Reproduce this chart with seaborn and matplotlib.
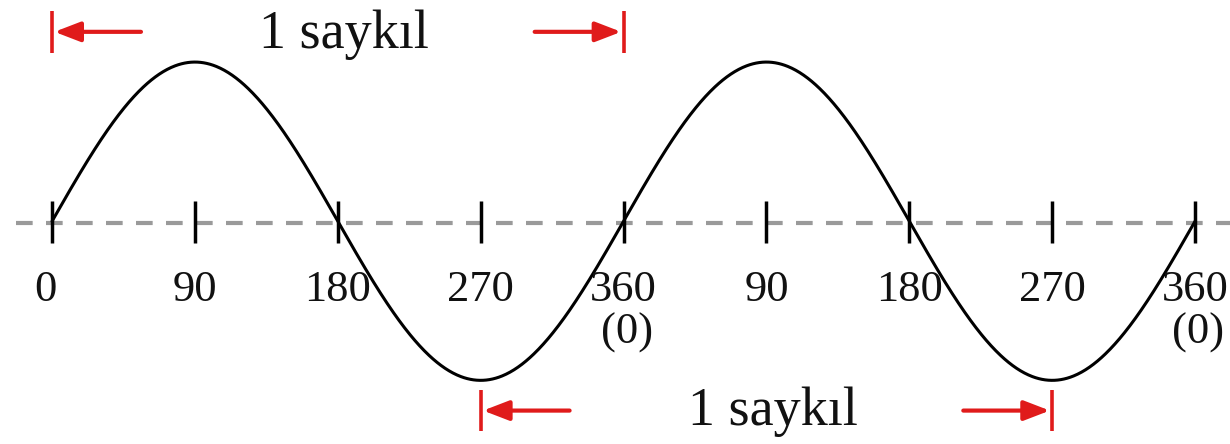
import numpy as np
import pandas as pd
import matplotlib
matplotlib.use("Agg")
import matplotlib.pyplot as plt
import seaborn as sns

# Data: angle marks along the axis (degrees, two full cycles)

tick_deg = [0, 90, 180, 270, 360, 450, 540, 630, 720]
tick_labels = ["0", "90", "180", "270", "360", "90", "180", "270", "360"]
sub_labels = {360: "(0)", 720: "(0)"}
cycle_text = "1 saykıl"
top_cycle = (0, 360)      # marked cycle above the wave
bottom_cycle = (270, 630)  # marked cycle below the wave

# Sine wave over two cycles
deg = np.linspace(0, 720, 1441)
wave = pd.DataFrame({"deg": deg, "amp": np.sin(np.radians(deg))})

sns.set_theme(style="white")
plt.rcParams["font.family"] = ["Liberation Serif", "DejaVu Serif"]

fig = plt.figure(figsize=(12.3, 4.44), dpi=100)
ax = fig.add_axes([0, 0, 1, 1])

# dashed zero line
ax.plot([-23, 760], [-0.01, -0.01], color="#9a9a9a", lw=3.0,
        dashes=(4, 3.2), zorder=1)

sns.lineplot(data=wave, x="deg", y="amp", color="black", lw=2.2, ax=ax,
             zorder=3)

# tick marks and labels
for d, lab in zip(tick_deg, tick_labels):
    ax.plot([d, d], [-0.14, 0.13], color="black", lw=2.5, zorder=2,
            solid_capstyle="butt")
    xoff = -4 if d == 0 else 0
    ax.text(d + xoff, -0.43, lab, ha="center", va="center", fontsize=32,
            color="#111111")
    if d in sub_labels:
        ax.text(d + 2, -0.70, sub_labels[d], ha="center", va="center",
                fontsize=32, color="#111111")

red = "#e01b1b"
head = "-|>,head_length=1.3,head_width=0.5"


def cycle_marker(x0, x1, y, text_y):
    for x in (x0, x1):
        ax.plot([x, x], [y - 0.13, y + 0.13], color=red, lw=2.6,
                solid_capstyle="butt")
    ax.annotate("", xy=(x0 + 1.5, y), xytext=(x0 + 56, y),
                arrowprops=dict(arrowstyle=head, color=red, lw=3.0,
                                shrinkA=0, shrinkB=0))
    ax.annotate("", xy=(x1 - 1.5, y), xytext=(x1 - 56, y),
                arrowprops=dict(arrowstyle=head, color=red, lw=3.0,
                                shrinkA=0, shrinkB=0))
    ax.text((x0 + x1) / 2 + 4, text_y, cycle_text, ha="center", va="center",
            fontsize=39, color="#111111")


cycle_marker(*top_cycle, 1.19, 1.17)
cycle_marker(*bottom_cycle, -1.19, -1.20)

ax.set_xlim(-32.8, 742)
ax.set_ylim(-1.40, 1.39)
ax.axis("off")

fig.savefig("out.png", dpi=100, facecolor="white")
